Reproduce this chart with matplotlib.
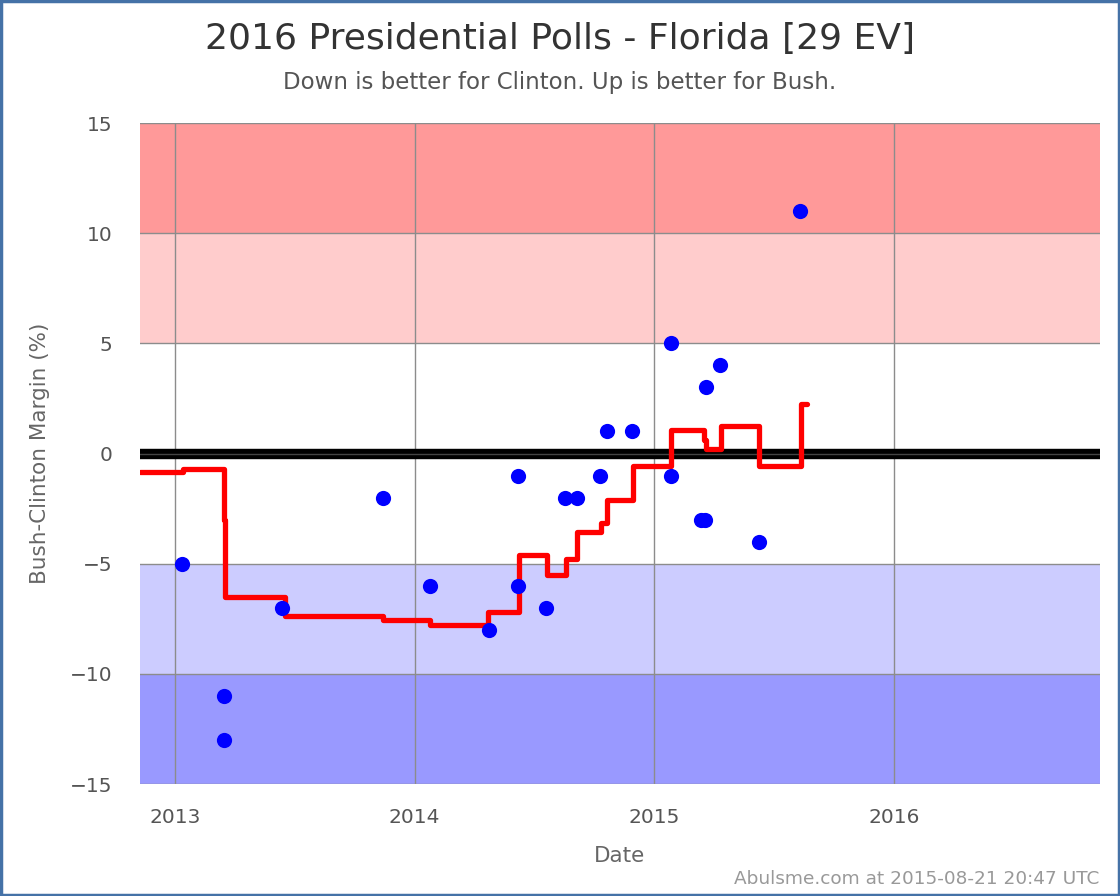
import matplotlib.pyplot as plt
from matplotlib.patches import Rectangle

# poll points (decimal year, Bush - Clinton margin)
poll_dates = [2013.029, 2013.204, 2013.204, 2013.446, 2013.867, 2014.063,
              2014.308, 2014.429, 2014.429, 2014.546, 2014.625, 2014.679,
              2014.771, 2014.804, 2014.908, 2015.071, 2015.071, 2015.196,
              2015.212, 2015.217, 2015.275, 2015.4375, 2015.608]
poll_margins = [-5, -11, -13, -7, -2, -6,
                -8, -1, -6, -7, -2, -2,
                -1, 1, 1, 5, -1, -3,
                -3, 3, 4, -4, 11]

# running average (step line)
avg_dates = [2012.854, 2013.033, 2013.206, 2013.208, 2013.458, 2013.867,
             2014.0625, 2014.304, 2014.433, 2014.55, 2014.629, 2014.675,
             2014.779, 2014.804, 2014.9125, 2015.071, 2015.208, 2015.213,
             2015.279, 2015.4375, 2015.6125, 2015.6375]
avg_margins = [-0.84, -0.71, -3.0, -6.5, -7.38, -7.56,
               -7.78, -7.2, -4.6, -5.5, -4.8, -3.57,
               -3.15, -2.1, -0.57, 1.07, 0.6, 0.2,
               1.25, -0.57, 2.25, 2.25]

year_ticks = [2013, 2014, 2015, 2016]
y_ticks = [-15, -10, -5, 0, 5, 10, 15]

# colour bands
bands = [(10, 15, '#ff9999'), (5, 10, '#ffcccc'),
         (-10, -5, '#ccccff'), (-15, -10, '#9999ff')]

fig = plt.figure(figsize=(11.2, 8.96), dpi=100)
ax = fig.add_axes([0.125, 0.125, 0.857, 0.7377])

xmin, xmax = 2012.854, 2016.858
ax.set_xlim(xmin, xmax)
ax.set_ylim(-15, 15)

for lo, hi, c in bands:
    ax.axhspan(lo, hi, color=c, zorder=0, lw=0)

for yt in y_ticks:
    ax.axhline(yt, color='#8c8c8c', lw=1, zorder=1)
for xt in year_ticks:
    ax.axvline(xt, color='#8c8c8c', lw=1, zorder=1)

ax.axhline(0, color='black', lw=7.5, zorder=2)
ax.axhline(0, color='#444444', lw=1, zorder=2)

ax.step(avg_dates, avg_margins, where='post', color='red', lw=3.8,
        solid_joinstyle='round', solid_capstyle='round', zorder=3)
ax.scatter(poll_dates, poll_margins, s=120, color='blue', zorder=4, lw=0)

for sp in ax.spines.values():
    sp.set_visible(False)

ax.set_xticks(year_ticks)
ax.set_xticklabels([str(y) for y in year_ticks])
ax.set_yticks(y_ticks)
ax.set_yticklabels([str(y).replace('-', '\u2212') for y in y_ticks])
ax.tick_params(length=0, labelsize=14.5, colors='#555555')
ax.tick_params(axis='x', pad=17)
ax.tick_params(axis='y', pad=20)

ax.set_xlabel('Date', fontsize=15.5, color='#666666', labelpad=14)
ax.set_ylabel('Bush-Clinton Margin (%)', fontsize=15.5, color='#666666', labelpad=14)

fig.text(0.5, 0.957, '2016 Presidential Polls - Florida [29 EV]',
         ha='center', va='center', fontsize=26, color='#333333')
fig.text(0.5, 0.908, 'Down is better for Clinton. Up is better for Bush.',
         ha='center', va='center', fontsize=16.5, color='#555555')
fig.text(0.982, 0.019, 'Abulsme.com at 2015-08-21 20:47 UTC',
         ha='right', va='center', fontsize=13.3, color='#999999')

fig.patches.append(Rectangle((0.001, 0.001), 0.998, 0.998, transform=fig.transFigure,
                             fill=False, edgecolor='#4572a7', lw=2.5))

fig.savefig('out.png', dpi=100)
